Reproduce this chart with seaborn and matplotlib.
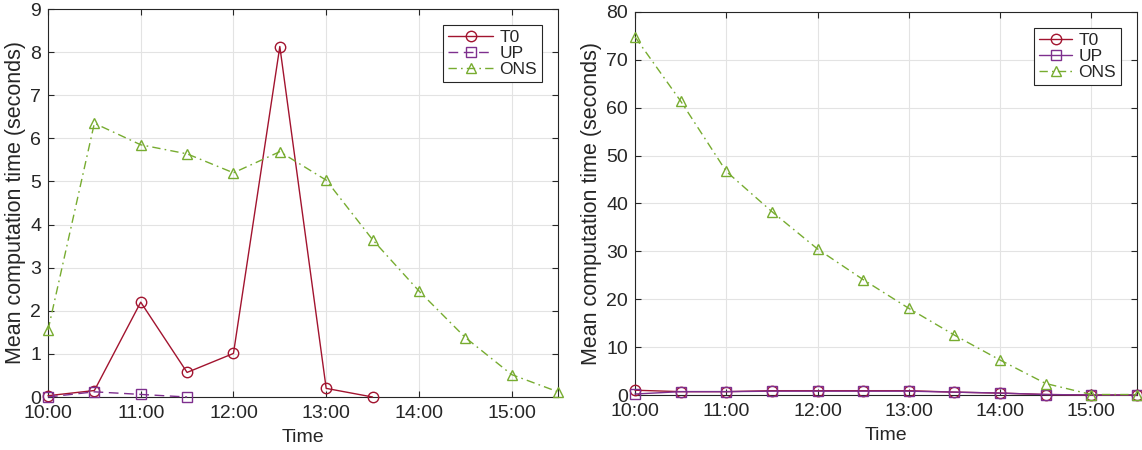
import matplotlib
matplotlib.use("Agg")
import matplotlib.pyplot as plt
import seaborn as sns
import numpy as np

# Half-hour time slots
times = ["10:00", "10:30", "11:00", "11:30", "12:00", "12:30",
         "13:00", "13:30", "14:00", "14:30", "15:00", "15:30"]
tick_labels = ["10:00", "11:00", "12:00", "13:00", "14:00", "15:00"]

# Left panel: mean computation time (seconds)
left_t0 = [0.03, 0.15, 2.20, 0.57, 1.01, 8.13, 0.20, 0.00]
left_up = [0.00, 0.12, 0.06, 0.00]
left_ons = [1.55, 6.35, 5.85, 5.64, 5.20, 5.69, 5.03, 3.65, 2.46, 1.38, 0.52, 0.12]

# Right panel: mean computation time (seconds)
right_t0 = [1.0, 0.7, 0.7, 0.9, 0.9, 0.9, 0.9, 0.6, 0.4, 0.1, 0.0, 0.0]
right_up = [0.2, 0.7, 0.7, 0.8, 0.8, 0.8, 0.8, 0.6, 0.4, 0.1, 0.0, 0.0]
right_ons = [74.8, 61.4, 46.7, 38.3, 30.5, 24.1, 18.1, 12.5, 7.3, 2.4, 0.1, 0.1]


def to_hours(labels):
    return np.array([int(s[:2]) + int(s[3:]) / 60 for s in labels])


sns.set_theme(style="ticks")
plt.rcParams["font.family"] = ["Liberation Sans", "DejaVu Sans"]

C_T0 = "#A2142F"
C_UP = "#7E2F8E"
C_ONS = "#77AC30"
INK = "#262626"
MS = 7.5
LW = 1.0

W, H = 1142, 450
fig = plt.figure(figsize=(W / 100, H / 100), dpi=100)


def px_axes(x0, x1, y0, y1):
    return fig.add_axes([x0 / W, 1 - y1 / H, (x1 - x0) / W, (y1 - y0) / H])


ax1 = px_axes(48, 558, 9, 397)
ax2 = px_axes(635, 1137, 12, 395)


def draw(ax, t0, up, ons, up_style):
    series = [
        ("T0", t0, C_T0, "o", "-"),
        ("UP", up, C_UP, "s", up_style),
        ("ONS", ons, C_ONS, "^", (0, (6, 3, 1.2, 3))),
    ]
    for name, vals, col, mk, ls in series:
        x = to_hours(times[:len(vals)])
        sns.lineplot(x=x, y=vals, ax=ax, color=col, marker=mk, markersize=MS,
                     markerfacecolor="none", markeredgecolor=col,
                     markeredgewidth=1.0, linewidth=LW, linestyle=ls,
                     label=name, clip_on=False, zorder=3)


draw(ax1, left_t0, left_up, left_ons, (0, (7, 4)))
draw(ax2, right_t0, right_up, right_ons, "-")

for ax, ymax, ystep, hl in [(ax1, 9, 1, 2.6), (ax2, 80, 10, 1.9)]:
    ax.set_xlim(10, 15.5)
    ax.set_ylim(0, ymax)
    ax.set_xticks(to_hours(tick_labels))
    ax.set_xticklabels(tick_labels)
    ax.set_yticks(np.arange(0, ymax + ystep / 2, ystep))
    ax.grid(True, color="#e3e3e3", linewidth=0.8)
    ax.set_axisbelow(True)
    for sp in ax.spines.values():
        sp.set_visible(True)
        sp.set_color(INK)
        sp.set_linewidth(0.8)
    ax.tick_params(direction="in", length=4, width=0.8, color=INK,
                   labelsize=14, labelcolor=INK, top=True, right=True)
    ax.tick_params(axis="x", pad=6)
    ax.tick_params(axis="y", pad=5)
    ax.set_xlabel("Time", fontsize=14, color=INK, labelpad=5)
    ax.set_ylabel("Mean computation time (seconds)", fontsize=15.5,
                  color=INK, labelpad=3)
    leg = ax.legend(loc="upper right", fontsize=12.5, handlelength=hl,
                    handletextpad=0.35, borderpad=0.3, labelspacing=0.05,
                    fancybox=False, framealpha=1, edgecolor=INK,
                    borderaxespad=0.9)
    leg.get_frame().set_linewidth(0.8)

fig.savefig("out.png", dpi=100)
